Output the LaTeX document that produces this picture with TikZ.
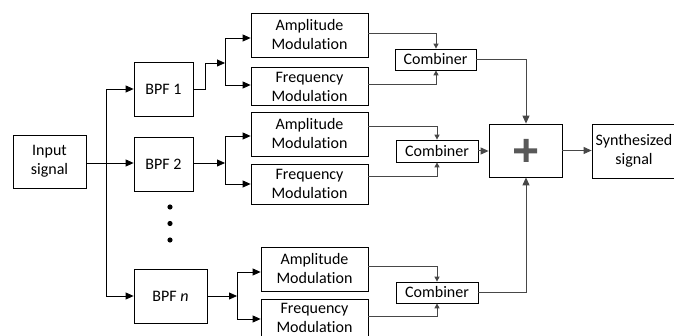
\documentclass[tikz,border=0pt]{standalone}
\usepackage{fontspec}
\setmainfont{Carlito}[Ligatures=CommonOff]
\usetikzlibrary{arrows.meta,calc}
\begin{document}
\begin{tikzpicture}[x=1pt,y=-1pt,
  every node/.style={font=\fontsize{16}{19}\selectfont, align=center},
  box/.style={draw=black, line width=0.8pt, inner sep=0pt},
  conn/.style={line width=0.8pt, black, -{Triangle[length=8pt,width=7pt]}},
  conn2/.style={line width=1pt, black!72, -{Triangle[length=5pt,width=5pt]}},
  conn3/.style={line width=1pt, black!72, -{Triangle[length=8pt,width=7pt]}},
  plain/.style={line width=0.8pt, black}]
\useasboundingbox (0,0) rectangle (674,336);
\clip (0,0) rectangle (674,336);
% boxes
\node[box, minimum width=73pt, minimum height=53pt] (in) at (49.5,161.5) {Input\\signal};
\node[box, minimum width=59pt, minimum height=54pt] (bpf1) at (163.5,89) {BPF 1};
\node[box, minimum width=59pt, minimum height=54pt] (bpf2) at (163.5,164) {BPF 2};
\node[box, minimum width=73pt, minimum height=54pt] (bpfn) at (170.5,296) {BPF \textit{n}};
\fill (170,207) circle (2.6pt) (170,223.5) circle (2.6pt) (170,240) circle (2.6pt);
\node[box, minimum width=117pt, minimum height=44pt] (am1) at (309.5,35) {Amplitude\\Modulation};
\node[box, minimum width=117pt, minimum height=38pt] (fm1) at (309.5,86) {};
\node[fill=white, inner sep=0.6pt] (fm1t) at (309.5,87) {Frequency\\Modulation};
\node[box, minimum width=117pt, minimum height=44pt] (am2) at (309.5,134) {Amplitude\\Modulation};
\node[box, minimum width=117pt, minimum height=40pt] (fm2) at (309.5,184) {Frequency\\Modulation};
\node[box, minimum width=107pt, minimum height=44pt] (amn) at (314.5,269) {Amplitude\\Modulation};
\node[box, minimum width=107pt, minimum height=44pt] (fmn) at (314.5,321) {};
\node (fmnt) at (314.5,318) {Frequency\\Modulation};
\node[box, minimum width=81pt, minimum height=21pt] (c1) at (435.5,59.5) {Combiner};
\node[box, minimum width=82pt, minimum height=22pt] (c2) at (437,151) {Combiner};
\node[box, minimum width=82pt, minimum height=21pt] (cn) at (437,292.5) {Combiner};
\node[box, minimum width=73pt, minimum height=53pt] (plus) at (525.5,150.5) {};
\fill[black!65] (514,148.5) rectangle (537,153.5) (523.5,139) rectangle (528.5,162);
\node[box, minimum width=86pt, minimum height=54pt] (syn) at (635,151) {};
\node (synt) at (634,151) {Synthesized\\signal};
% left part
\coordinate (t) at (106,163);
\draw[conn] (in.east |- t) -- (bpf2.west |- t);
\draw[conn] (t) |- (bpf1.west);
\draw[conn] (t) |- (bpfn.west);
% BPF 1 branch
\coordinate (j1) at (225,63);
\draw[conn] (bpf1.east) -- (205,89) |- (j1);
\draw[conn] (j1) |- (am1.west |- 0,38);
\draw[conn] (j1) |- (fm1.west |- 0,85);
% BPF 2 branch
\coordinate (j2) at (225,163);
\draw[conn] (bpf2.east |- j2) -- (j2);
\draw[conn] (j2) |- (am2.west |- 0,136);
\draw[conn] (j2) |- (fm2.west |- 0,184);
% BPF n branch
\coordinate (jn) at (237,296);
\draw[conn] (bpfn.east) -- (jn);
\draw[conn] (jn) |- (amn.west |- 0,272);
\draw[conn] (jn) |- (fmn.west |- 0,319);
% to combiners
\draw[conn2] (am1.east |- 0,34) -| (436,0 |- c1.north);
\draw[conn2] (fm1.east |- 0,85) -| (436,0 |- c1.south);
\draw[conn2] (am2.east |- 0,127) -| (437,0 |- c2.north);
\draw[conn2] (fm2.east |- 0,177) -| (437,0 |- c2.south);
\draw[conn2] (amn.east |- 0,267) -| (437,0 |- cn.north);
\draw[conn2] (fmn.east |- 0,317) -| (437,0 |- cn.south);
% to plus
\draw[conn3] (c1.east) -| (526,0 |- plus.north);
\draw[conn3] (c2.east) -- (plus.west |- c2.east);
\draw[conn3] (cn.east) -| (526,0 |- plus.south);
\draw[conn3] (plus.east) -- (syn.west |- plus.east);
\end{tikzpicture}
\end{document}
